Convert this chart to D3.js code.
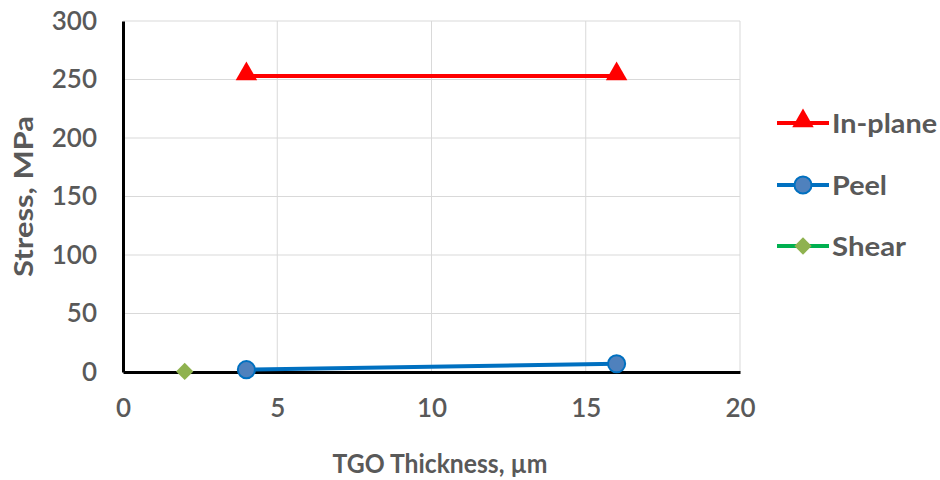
<!DOCTYPE html>
<html><head><meta charset="utf-8">
<script src="https://cdn.jsdelivr.net/npm/d3@7"></script>
<style>body{margin:0;background:#fff;} text{font-family:Lato,"Open Sans",sans-serif;}</style>
</head><body>
<svg id="c" width="940" height="480"></svg>
<script>
const xTicks = [0, 5, 10, 15, 20];
const yTicks = [0, 50, 100, 150, 200, 250, 300];
const seriesNames = ["In-plane", "Peel", "Shear"];
const seriesColors = ["#ff0000", "#0070c0", "#00b050"];
const inPlane = [{x: 4, y: 253}, {x: 16, y: 253}];
const peel = [{x: 4, y: 2}, {x: 16, y: 7}];
const shear = [{x: 2, y: 0.5}];
const xTitle = "TGO Thickness, µm";
const yTitle = "Stress, MPa";

const svg = d3.select("#c");
const x = d3.scaleLinear().domain([0, 20]).range([123, 740]);
const y = d3.scaleLinear().domain([0, 300]).range([372, 21]);

// gridlines
svg.append("g").selectAll("line").data(yTicks.slice(1)).join("line")
  .attr("x1", x(0)).attr("x2", x(20)).attr("y1", d => y(d)).attr("y2", d => y(d))
  .attr("stroke", "#d9d9d9").attr("stroke-width", 1);
svg.append("g").selectAll("line").data(xTicks.slice(1)).join("line")
  .attr("y1", y(0)).attr("y2", y(300)).attr("x1", d => x(d)).attr("x2", d => x(d))
  .attr("stroke", "#d9d9d9").attr("stroke-width", 1);

// axes
const xAxis = d3.axisBottom(x).tickValues(xTicks).tickSize(0).tickPadding(27);
const gx = svg.append("g").attr("transform", `translate(0,${y(0)})`).call(xAxis);
gx.select(".domain").attr("stroke", "#000").attr("stroke-width", 3);
gx.selectAll("text").attr("font-size", 26).attr("font-weight", 600).attr("fill", "#595959").attr("font-family", "Lato, sans-serif");

const yAxis = d3.axisLeft(y).tickValues(yTicks).tickSize(0).tickPadding(26);
const gy = svg.append("g").attr("transform", `translate(${x(0)},0)`).call(yAxis);
gy.select(".domain").attr("stroke", "#000").attr("stroke-width", 3);
gy.selectAll("text").attr("font-size", 26).attr("font-weight", 600).attr("fill", "#595959").attr("font-family", "Lato, sans-serif");

// titles
svg.append("text").attr("x", 440).attr("y", 473).attr("text-anchor", "middle")
  .attr("font-size", 27).attr("font-weight", "bold").attr("fill", "#595959")
  .attr("textLength", 215).attr("lengthAdjust", "spacingAndGlyphs").text(xTitle);
svg.append("text").attr("transform", `translate(33,${y(150)}) rotate(-90)`).attr("text-anchor", "middle")
  .attr("font-size", 27).attr("font-weight", "bold").attr("fill", "#595959")
  .attr("textLength", 161).attr("lengthAdjust", "spacingAndGlyphs").text(yTitle);

const line = d3.line().x(d => x(d.x)).y(d => y(d.y));
const tri = d3.symbol().type(d3.symbolTriangle).size(200);
const circ = d3.symbol().type(d3.symbolCircle).size(230);
const dia = d3.symbol().type(d3.symbolSquare).size(150);

// series
svg.append("path").datum(inPlane).attr("d", line).attr("fill", "none").attr("stroke", seriesColors[0]).attr("stroke-width", 4);
svg.append("g").selectAll("path").data(inPlane).join("path")
  .attr("transform", d => `translate(${x(d.x)},${y(d.y) - 2})`).attr("d", tri).attr("fill", seriesColors[0]);

svg.append("path").datum(peel).attr("d", line).attr("fill", "none").attr("stroke", seriesColors[1]).attr("stroke-width", 4);
svg.append("g").selectAll("path").data(peel).join("path")
  .attr("transform", d => `translate(${x(d.x)},${y(d.y)})`).attr("d", circ)
  .attr("fill", "#4f81bd").attr("stroke", seriesColors[1]).attr("stroke-width", 2);

svg.append("g").selectAll("path").data(shear).join("path")
  .attr("transform", d => `translate(${x(d.x)},${y(d.y)}) rotate(45)`).attr("d", dia).attr("fill", "#8fb24f");

// legend
const legY = [123, 185, 246];
const legW = [105, 55, 74];
const lg = svg.append("g");
seriesNames.forEach((n, i) => {
  const g = lg.append("g").attr("transform", `translate(777,${legY[i]})`);
  g.append("line").attr("x1", 0).attr("x2", 52).attr("stroke", seriesColors[i]).attr("stroke-width", 4);
  if (i === 0) g.append("path").attr("transform", "translate(26,-2)").attr("d", tri).attr("fill", seriesColors[0]);
  if (i === 1) g.append("path").attr("transform", "translate(26,0)").attr("d", circ).attr("fill", "#4f81bd").attr("stroke", seriesColors[1]).attr("stroke-width", 2);
  if (i === 2) g.append("path").attr("transform", "translate(26,0) rotate(45)").attr("d", dia).attr("fill", "#8fb24f");
  g.append("text").attr("x", 55).attr("y", 10).attr("font-size", 27).attr("font-weight", "bold").attr("fill", "#595959")
    .attr("textLength", legW[i]).attr("lengthAdjust", "spacingAndGlyphs").text(n);
});
</script>
</body></html>
